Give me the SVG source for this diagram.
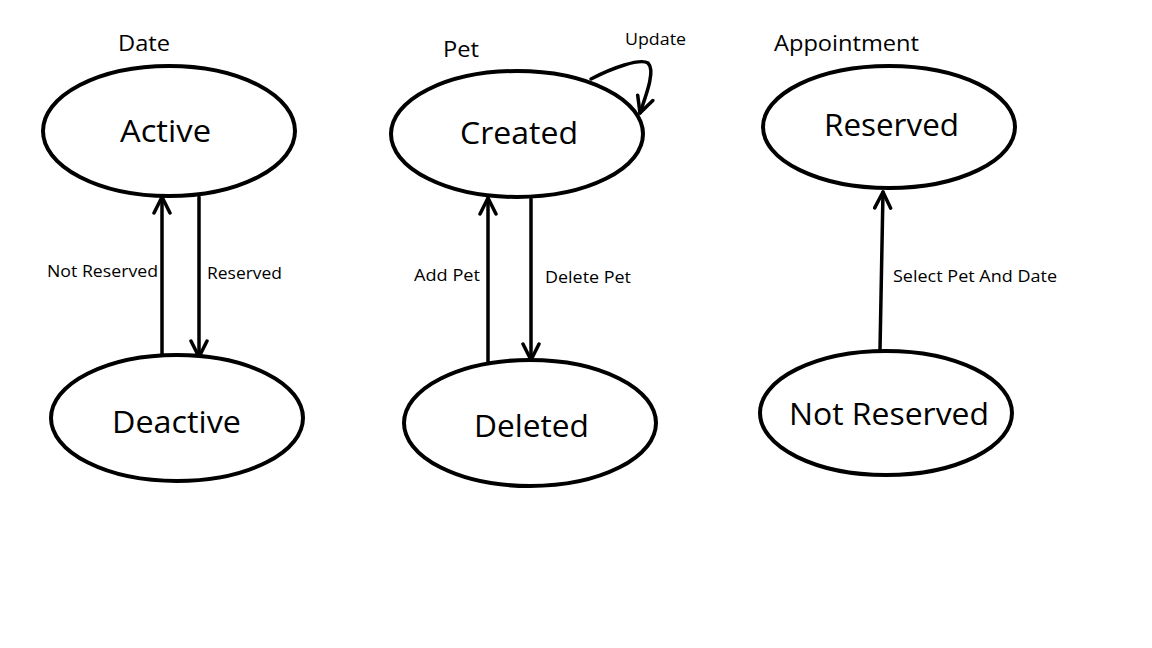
<svg xmlns="http://www.w3.org/2000/svg" width="1152" height="648" viewBox="0 0 1152 648">
<defs>
<style>
.state{fill:#fff;stroke:#000;stroke-width:4}
.edge{fill:none;stroke:#000;stroke-width:3.5;stroke-linecap:round;stroke-linejoin:round}
.big{font-family:"Open Sans","Liberation Sans",sans-serif;font-size:31px;fill:#000}
.title{font-family:"Open Sans","Liberation Sans",sans-serif;font-size:22px;fill:#000}
.lbl{font-family:"Open Sans","Liberation Sans",sans-serif;font-size:17px;fill:#000}
</style>
<marker id="arr" viewBox="0 0 20 20" refX="18" refY="10" markerWidth="20" markerHeight="20" markerUnits="userSpaceOnUse" orient="auto">
<path d="M2,2 L18,10 L2,18" fill="none" stroke="#000" stroke-width="3.5" stroke-linecap="round" stroke-linejoin="round"/>
</marker>
</defs>
<rect width="1152" height="648" fill="#fff"/>
<g id="titles">
<text class="title" x="118" y="51" textLength="52" lengthAdjust="spacingAndGlyphs">Date</text>
<text class="title" x="443" y="57" textLength="36" lengthAdjust="spacingAndGlyphs">Pet</text>
<text class="title" x="774" y="51" textLength="145" lengthAdjust="spacingAndGlyphs">Appointment</text>
</g>
<g id="connectors">
<line class="edge" x1="162" y1="355" x2="162" y2="197" marker-end="url(#arr)"/>
<line class="edge" x1="199" y1="197" x2="199" y2="357" marker-end="url(#arr)"/>
<line class="edge" x1="488" y1="362" x2="488" y2="198" marker-end="url(#arr)"/>
<line class="edge" x1="531" y1="199" x2="531" y2="360" marker-end="url(#arr)"/>
<line class="edge" x1="880" y1="350" x2="883" y2="192" marker-end="url(#arr)"/>
<path class="edge" d="M591,79 C612,68 640,58 648,63 C655,70 648,90 640,113" marker-end="url(#arr)"/>
<text class="lbl" x="625" y="45" textLength="61" lengthAdjust="spacingAndGlyphs">Update</text>
<text class="lbl" x="47" y="277" textLength="111" lengthAdjust="spacingAndGlyphs">Not Reserved</text>
<text class="lbl" x="207" y="279" textLength="75" lengthAdjust="spacingAndGlyphs">Reserved</text>
<text class="lbl" x="414" y="281" textLength="66" lengthAdjust="spacingAndGlyphs">Add Pet</text>
<text class="lbl" x="545" y="283" textLength="86" lengthAdjust="spacingAndGlyphs">Delete Pet</text>
<text class="lbl" x="893" y="282" textLength="164" lengthAdjust="spacingAndGlyphs">Select Pet And Date</text>
</g>
<g id="active">
<ellipse class="state" cx="169" cy="131" rx="126" ry="65"/>
<text class="big" x="120" y="142" textLength="91" lengthAdjust="spacingAndGlyphs">Active</text>
</g>
<g id="deactive">
<ellipse class="state" cx="177" cy="418" rx="126" ry="63"/>
<text class="big" x="112" y="433" textLength="129" lengthAdjust="spacingAndGlyphs">Deactive</text>
</g>
<g id="created">
<ellipse class="state" cx="517" cy="134" rx="126" ry="63"/>
<text class="big" x="460" y="144" textLength="118" lengthAdjust="spacingAndGlyphs">Created</text>
</g>
<g id="deleted">
<ellipse class="state" cx="530" cy="423" rx="126" ry="63"/>
<text class="big" x="474" y="437" textLength="115" lengthAdjust="spacingAndGlyphs">Deleted</text>
</g>
<g id="reserved">
<ellipse class="state" cx="889" cy="127" rx="126" ry="61"/>
<text class="big" x="824" y="136" textLength="135" lengthAdjust="spacingAndGlyphs">Reserved</text>
</g>
<g id="notreserved">
<ellipse class="state" cx="886" cy="413" rx="126" ry="62"/>
<text class="big" x="789" y="425" textLength="200" lengthAdjust="spacingAndGlyphs">Not Reserved</text>
</g>
</svg>
